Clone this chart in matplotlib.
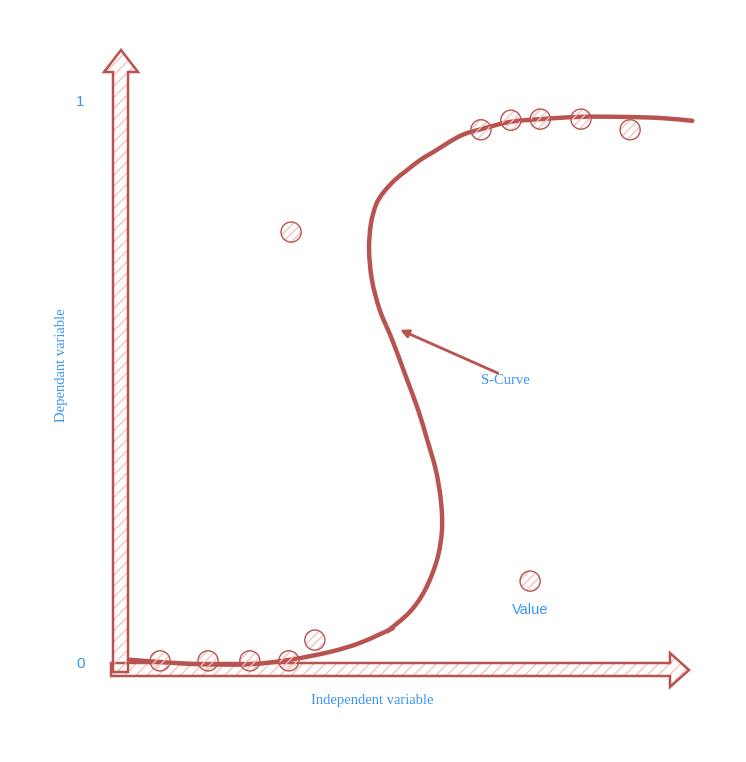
import matplotlib
matplotlib.use('Agg')
import matplotlib.pyplot as plt
from matplotlib.patches import Polygon, PathPatch
from matplotlib.path import Path

# data (x: 0..1 along independent axis, y: 0..1)
point_x = [0.062, 0.147, 0.221, 0.290, 0.336, 0.294, 0.717, 0.630, 0.683, 0.735, 0.807, 0.894]
point_y = [0.002, 0.002, 0.002, 0.002, 0.039, 0.765, 0.144, 0.947, 0.964, 0.966, 0.966, 0.947]

tail_x = [0.009, 0.062, 0.133, 0.221, 0.292, 0.363, 0.416, 0.474]
tail_y = [0.004, 0.000, -0.004, -0.004, 0.004, 0.018, 0.034, 0.060]

curve_x = [0.465, 0.504, 0.531, 0.552, 0.561, 0.559, 0.550, 0.535, 0.519, 0.496, 0.473,
           0.451, 0.437, 0.432, 0.435, 0.444, 0.457, 0.478, 0.499, 0.522, 0.545, 0.593,
           0.630, 0.681, 0.735, 0.805, 0.876, 0.947, 1.004]
curve_y = [0.055, 0.089, 0.128, 0.181, 0.235, 0.288, 0.342, 0.395, 0.448, 0.511, 0.573,
           0.626, 0.680, 0.733, 0.778, 0.813, 0.835, 0.858, 0.875, 0.893, 0.907, 0.936,
           0.948, 0.961, 0.966, 0.970, 0.970, 0.968, 0.963]

y_ticks = [0, 1]
y_labels = ['0', '1']

RED = '#b85450'
PINK = '#f7bdba'
BLUE = '#3a95f5'


def smooth_path(xs, ys):
    # catmull-rom through the given points, as cubic bezier segments
    pts = list(zip(xs, ys))
    pts = [pts[0]] + pts + [pts[-1]]
    verts = [pts[1]]
    codes = [Path.MOVETO]
    for i in range(1, len(pts) - 2):
        p0, p1, p2, p3 = pts[i - 1], pts[i], pts[i + 1], pts[i + 2]
        c1 = (p1[0] + (p2[0] - p0[0]) / 6, p1[1] + (p2[1] - p0[1]) / 6)
        c2 = (p2[0] - (p3[0] - p1[0]) / 6, p2[1] - (p3[1] - p1[1]) / 6)
        verts += [c1, c2, p2]
        codes += [Path.CURVE4] * 3
    return Path(verts, codes)


W, H = 746, 762
fig = plt.figure(figsize=(W / 100, H / 100), dpi=100)

# background axes in pixel units for the hand drawn axis arrows
bg = fig.add_axes([0, 0, 1, 1])
bg.set_xlim(0, W)
bg.set_ylim(H, 0)
bg.axis('off')

plt.rcParams['hatch.linewidth'] = 0.9
v_arrow = [(113, 672), (113, 72), (104, 72), (121, 50), (138, 72), (128, 72), (128, 672)]
h_arrow = [(111, 663), (670, 663), (670, 653), (689, 670), (670, 687), (670, 676), (111, 676)]
for shape in (h_arrow, v_arrow):
    bg.add_patch(Polygon(shape, closed=True, facecolor='none', edgecolor=PINK,
                         hatch='///', linewidth=0))
    bg.add_patch(Polygon(shape, closed=True, facecolor='none', edgecolor=RED,
                         linewidth=1.8, joinstyle='miter'))

# data axes: origin at (125, 662) px, x=1 at 690 px, y=1 at 100 px
ax = fig.add_axes([125 / W, (H - 662) / H, 565 / W, 562 / H])
ax.patch.set_alpha(0)
ax.set_xlim(0, 1)
ax.set_ylim(0, 1)
for s in ax.spines.values():
    s.set_visible(False)
ax.set_xticks([])
ax.set_yticks(y_ticks)
ax.set_yticklabels(y_labels, color=BLUE, fontsize=11, family='Liberation Sans')
ax.tick_params(axis='y', length=0, pad=29)

for xs, ys in ((tail_x, tail_y), (curve_x, curve_y)):
    ax.add_patch(PathPatch(smooth_path(xs, ys), facecolor='none', edgecolor=RED, lw=3.2,
                           capstyle='round', joinstyle='round', clip_on=False))

ax.scatter(point_x, point_y, s=210, facecolors='none', edgecolors=PINK, hatch='////',
           linewidths=0, clip_on=False, zorder=3)
ax.scatter(point_x, point_y, s=210, facecolors='none', edgecolors=RED, linewidths=1.0,
           clip_on=False, zorder=4)

ax.annotate('', xy=(0.487, 0.591), xytext=(0.660, 0.514),
            arrowprops=dict(arrowstyle='-|>', color=RED, lw=2, mutation_scale=12,
                            shrinkA=0, shrinkB=0))
ax.text(0.673, 0.500, 'S-Curve', color=BLUE, fontsize=10.5, family='Liberation Serif',
        ha='center', va='center')
ax.text(0.717, 0.093, 'Value', color=BLUE, fontsize=10.5, family='Liberation Sans',
        ha='center', va='center')
ax.text(0.437, -0.068, 'Independent variable', color=BLUE, fontsize=10.5,
        family='Liberation Serif', ha='center', va='center')
ax.text(-0.113, 0.528, 'Dependant variable', color=BLUE, fontsize=10.5,
        family='Liberation Serif', ha='center', va='center', rotation=90)

fig.savefig('out.png', dpi=100)
